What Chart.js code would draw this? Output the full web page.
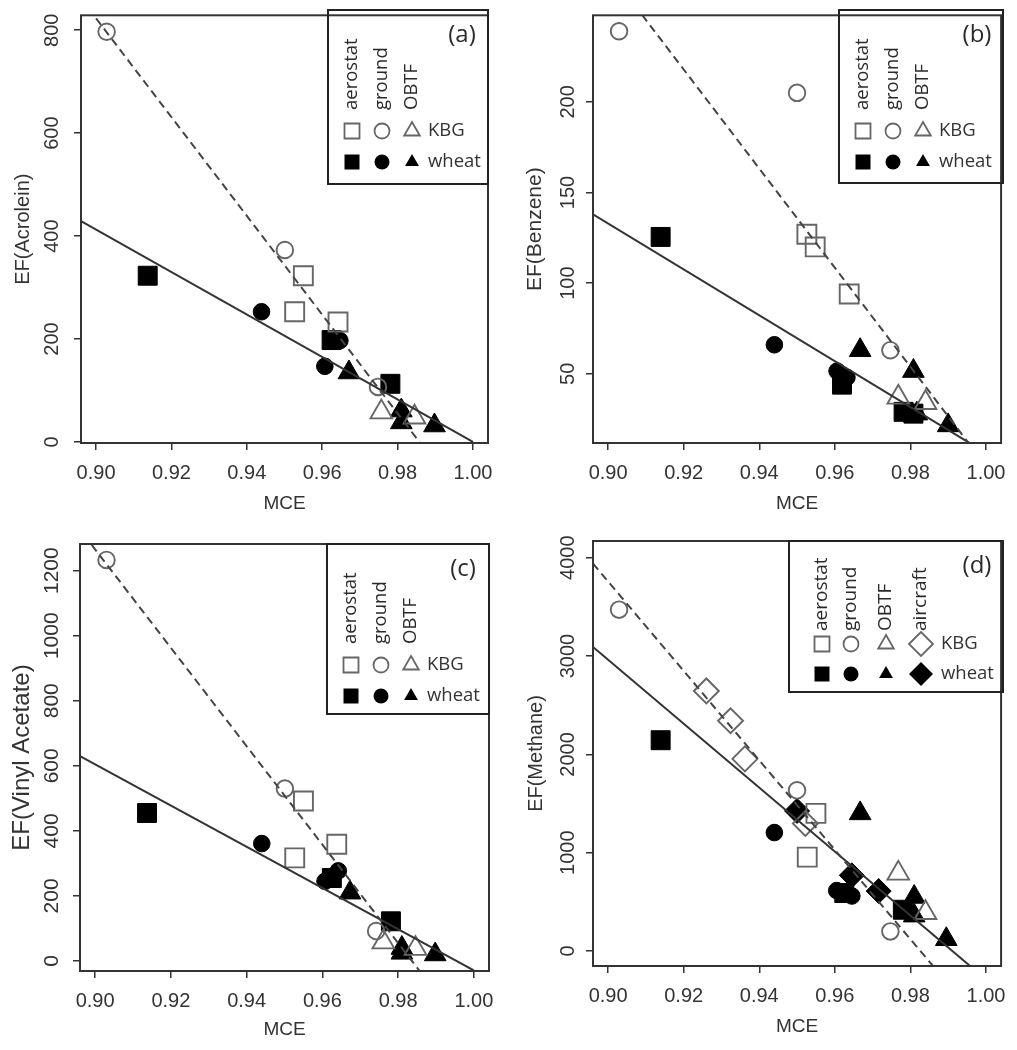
<!DOCTYPE html>
<html>
<head>
<meta charset="utf-8">
<script src="https://cdn.jsdelivr.net/npm/chart.js"></script>
<style>
html, body { margin: 0; padding: 0; background: #fff; }
#wrap { position: relative; width: 1017px; height: 1050px; }
canvas { position: absolute; }
</style>
</head>
<body>
<div id="wrap">
    <canvas id="pa" width="505" height="520" style="left:0px;top:0px"></canvas>
    <canvas id="pb" width="512" height="520" style="left:505px;top:0px"></canvas>
    <canvas id="pc" width="505" height="530" style="left:0px;top:520px"></canvas>
    <canvas id="pd" width="512" height="530" style="left:505px;top:520px"></canvas>
</div>
<script>
// x axis ticks (same for every panel)
const mceTicks = [0.90, 0.92, 0.94, 0.96, 0.98, 1.00];

// (a) Acrolein
const aTicks = [0, 200, 400, 600, 800];
const aAeroKBG = [[0.9550, 323], [0.9527, 253], [0.9642, 233]];
const aGroundKBG = [[0.9028, 797], [0.9501, 373], [0.9748, 107]];
const aObtfKBG = [[0.9757, 58], [0.9845, 48]];
const aAeroWheat = [[0.9137, 323], [0.9625, 198], [0.9781, 113]];
const aGroundWheat = [[0.9439, 253], [0.9647, 197], [0.9607, 147]];
const aObtfWheat = [[0.9671, 135], [0.9810, 61], [0.9810, 38], [0.9898, 32]];
const aFitDash = [[0.900, 823], [0.986, -2]];
const aFitSolid = [[0.896, 429], [1.000, 0]];

// (b) Benzene
const bTicks = [50, 100, 150, 200];
const bAeroKBG = [[0.9526, 127], [0.9548, 120], [0.9638, 94]];
const bGroundKBG = [[0.9029, 239], [0.9500, 205], [0.9747, 63]];
const bObtfKBG = [[0.9768, 37], [0.9840, 34]];
const bAeroWheat = [[0.9139, 125.5], [0.9619, 44], [0.9782, 29], [0.9808, 28]];
const bGroundWheat = [[0.9440, 66], [0.9606, 51.5], [0.9632, 48]];
const bObtfWheat = [[0.9667, 63], [0.9808, 51.5], [0.9817, 28], [0.9900, 21.5]];
const bFitDash = [[0.909, 248], [0.9953, 12]];
const bFitSolid = [[0.896, 138], [0.9955, 12]];

// (c) Vinyl Acetate
const cTicks = [0, 200, 400, 600, 800, 1000, 1200];
const cAeroKBG = [[0.9550, 492], [0.9527, 317], [0.9638, 359]];
const cGroundKBG = [[0.9030, 1233], [0.9501, 530], [0.9742, 92]];
const cObtfKBG = [[0.9761, 58], [0.9846, 38]];
const cAeroWheat = [[0.9137, 455], [0.9625, 255], [0.9781, 122]];
const cGroundWheat = [[0.9440, 361], [0.9642, 277], [0.9607, 245]];
const cObtfWheat = [[0.9673, 210], [0.9810, 40], [0.9810, 25], [0.9898, 20]];
const cFitDash = [[0.8991, 1279], [0.9857, -31]];
const cFitSolid = [[0.896, 630], [1.000, -29]];

// (d) Methane
const dTicks = [0, 1000, 2000, 3000, 4000];
const dAeroKBG = [[0.9550, 1400], [0.9527, 955]];
const dGroundKBG = [[0.9029, 3472], [0.9500, 1635], [0.9747, 200]];
const dObtfKBG = [[0.9768, 790], [0.9840, 390]];
const dAirKBG = [[0.9260, 2645], [0.9324, 2342], [0.9362, 1955], [0.9522, 1297]];
const dAeroWheat = [[0.9139, 2144], [0.9625, 590], [0.9780, 420]];
const dGroundWheat = [[0.9440, 1205], [0.9605, 615], [0.9645, 560]];
const dObtfWheat = [[0.9667, 1400], [0.9810, 550], [0.9810, 360], [0.9895, 120]];
const dAirWheat = [[0.9500, 1425], [0.9645, 770], [0.9716, 610]];
const dFitDash = [[0.896, 3940], [0.986, -152]];
const dFitSolid = [[0.896, 3092], [0.9958, -152]];

const openCol = '#666';
const axisCol = '#333';
const fontFam = '"Liberation Sans", Arial, sans-serif';
const sizes = { rect: 13.4, circle: 8.3, triangle: 12.5, rectRot: 12.5 };

function ser(pts, style, filled) {
    return { pts: pts, style: style, filled: filled };
}

const panels = [
    {
        id: 'pa', w: 505, h: 520, area: { l: 81, r: 488, t: 10, b: 443 },
        yMin: -2, yMax: 829, yTicks: aTicks, yTitle: 'EF(Acrolein)', yTitleSize: 20, tag: '(a)',
        yLabX: 52, yLabSize: 20, yTitlePad: 11, xTitlePad: 5.3,
        legend: { l: 328, t: 10, r: 488, b: 184 },
        cols: ['aerostat', 'ground', 'OBTF'],
        series: [ser(aAeroKBG, 'rect', false), ser(aGroundKBG, 'circle', false), ser(aObtfKBG, 'triangle', false),
                 ser(aAeroWheat, 'rect', true), ser(aGroundWheat, 'circle', true), ser(aObtfWheat, 'triangle', true)],
        dash: aFitDash, solid: aFitSolid
    },
    {
        id: 'pb', w: 512, h: 520, area: { l: 88, r: 498, t: 10, b: 443 },
        yMin: 11.8, yMax: 247.8, yTicks: bTicks, yTitle: 'EF(Benzene)', yTitleSize: 21, tag: '(b)',
        yLabX: 63, yLabSize: 20, yTitlePad: 17.4, xTitlePad: 5.3,
        legend: { l: 334, t: 10, r: 498, b: 183 },
        cols: ['aerostat', 'ground', 'OBTF'],
        series: [ser(bAeroKBG, 'rect', false), ser(bGroundKBG, 'circle', false), ser(bObtfKBG, 'triangle', false),
                 ser(bAeroWheat, 'rect', true), ser(bGroundWheat, 'circle', true), ser(bObtfWheat, 'triangle', true)],
        dash: bFitDash, solid: bFitSolid
    },
    {
        id: 'pc', w: 505, h: 530, area: { l: 80, r: 489, t: 24, b: 451 },
        yMin: -30.8, yMax: 1282, yTicks: cTicks, yTitle: 'EF(Vinyl Acetate)', yTitleSize: 24, tag: '(c)',
        yLabX: 52, yLabSize: 21, yTitlePad: 7.5, xTitlePad: 8.6,
        legend: { l: 327, t: 24, r: 489, b: 194 },
        cols: ['aerostat', 'ground', 'OBTF'],
        series: [ser(cAeroKBG, 'rect', false), ser(cGroundKBG, 'circle', false), ser(cObtfKBG, 'triangle', false),
                 ser(cAeroWheat, 'rect', true), ser(cGroundWheat, 'circle', true), ser(cObtfWheat, 'triangle', true)],
        dash: cFitDash, solid: cFitSolid
    },
    {
        id: 'pd', w: 512, h: 530, area: { l: 88, r: 498, t: 21, b: 446 },
        yMin: -152, yMax: 4170, yTicks: dTicks, yTitle: 'EF(Methane)', yTitleSize: 20, tag: '(d)',
        yLabX: 63, yLabSize: 20, yTitlePad: 19.7, xTitlePad: 11.9,
        legend: { l: 284, t: 21, r: 498, b: 172 },
        cols: ['aerostat', 'ground', 'OBTF', 'aircraft'],
        series: [ser(dAeroKBG, 'rect', false), ser(dGroundKBG, 'circle', false), ser(dObtfKBG, 'triangle', false), ser(dAirKBG, 'rectRot', false),
                 ser(dAeroWheat, 'rect', true), ser(dGroundWheat, 'circle', true), ser(dObtfWheat, 'triangle', true), ser(dAirWheat, 'rectRot', true)],
        dash: dFitDash, solid: dFitSolid
    }
];

// legend marker, same shapes as the chart.js point styles
function mark(ctx, style, x, y, r, filled) {
    ctx.beginPath();
    if (style === 'rect') {
        const s = r * Math.SQRT1_2;
        ctx.rect(x - s, y - s, 2 * s, 2 * s);
    } else if (style === 'circle') {
        ctx.arc(x, y, r, 0, Math.PI * 2);
    } else if (style === 'triangle') {
        ctx.moveTo(x, y - r);
        ctx.lineTo(x + r * 0.866, y + r / 2);
        ctx.lineTo(x - r * 0.866, y + r / 2);
        ctx.closePath();
    } else {
        ctx.moveTo(x - r, y);
        ctx.lineTo(x, y - r);
        ctx.lineTo(x + r, y);
        ctx.lineTo(x, y + r);
        ctx.closePath();
    }
    if (filled) {
        ctx.fillStyle = '#000';
        ctx.fill();
    } else {
        ctx.strokeStyle = openCol;
        ctx.lineWidth = 1.8;
        ctx.stroke();
    }
}

function decorate(chart, p) {
    const ctx = chart.ctx;
    const ca = chart.chartArea;
    const ys = chart.scales.y;
    ctx.save();
    // plot box
    ctx.strokeStyle = axisCol;
    ctx.lineWidth = 2;
    ctx.strokeRect(ca.left, ca.top, ca.right - ca.left, ca.bottom - ca.top);

    // y tick labels, vertical like R
    ctx.fillStyle = axisCol;
    ctx.font = p.yLabSize + 'px ' + fontFam;
    ctx.textAlign = 'center';
    ctx.textBaseline = 'middle';
    p.yTicks.forEach(v => {
        ctx.save();
        ctx.translate(p.yLabX, ys.getPixelForValue(v));
        ctx.rotate(-Math.PI / 2);
        ctx.fillText(String(v), 0, 0);
        ctx.restore();
    });

    // legend
    const L = p.legend;
    ctx.strokeStyle = '#222';
    ctx.lineWidth = 2;
    ctx.strokeRect(L.l, L.t, L.r - L.l, L.b - L.t);
    ctx.fillStyle = '#2a2a2a';
    ctx.font = '24px "Open Sans", sans-serif';
    ctx.textAlign = 'center';
    ctx.fillText(p.tag, L.r - 26, L.t + 25);

    const four = p.cols.length === 4;
    const colX = four ? [33, 62, 97, 132] : [24, 54, 84];
    const txtX = four ? 152 : 100;
    const labBottom = four ? 90 : 100;
    const rows = four ? [103, 133] : [121, 152];
    ctx.font = (four ? '19px' : '18.5px') + ' "Open Sans", sans-serif';
    ctx.textAlign = 'left';
    p.cols.forEach((name, i) => {
        ctx.save();
        ctx.translate(L.l + colX[i], L.t + labBottom);
        ctx.rotate(-Math.PI / 2);
        ctx.fillText(name, 0, 0);
        ctx.restore();
    });
    const n = p.cols.length;
    const styles = p.series.slice(0, n).map(s => s.style);
    const lr = { rect: 10.6, circle: 7.5, triangle: 9, rectRot: 12 };
    styles.forEach((st, i) => {
        mark(ctx, st, L.l + colX[i], L.t + rows[0], lr[st], false);
        mark(ctx, st, L.l + colX[i], L.t + rows[1], st === 'triangle' ? 8 : lr[st], true);
    });
    ctx.fillStyle = '#333';
    ctx.font = '18.5px "Open Sans", sans-serif';
    ctx.fillText('KBG', L.l + txtX, L.t + rows[0]);
    ctx.fillText('wheat', L.l + txtX, L.t + rows[1]);
    ctx.restore();
}

panels.forEach(p => {
    const datasets = [
        {
            type: 'line', data: p.dash.map(d => ({ x: d[0], y: d[1] })),
            borderColor: '#444', borderWidth: 2, borderDash: [8, 5],
            pointRadius: 0, fill: false, order: 0, clip: 0
        },
        {
            type: 'line', data: p.solid.map(d => ({ x: d[0], y: d[1] })),
            borderColor: '#333', borderWidth: 2,
            pointRadius: 0, fill: false, order: 0, clip: 0
        }
    ];
    p.series.forEach(s => {
        datasets.push({
            data: s.pts.map(d => ({ x: d[0], y: d[1] })),
            pointStyle: s.style,
            pointRadius: sizes[s.style],
            pointHoverRadius: sizes[s.style],
            pointBackgroundColor: s.filled ? '#000' : 'rgba(0,0,0,0)',
            pointBorderColor: s.filled ? '#000' : openCol,
            pointBorderWidth: s.filled ? 1 : 1.9,
            showLine: false,
            order: 1,
            clip: false
        });
    });

    new Chart(document.getElementById(p.id), {
        type: 'scatter',
        data: { datasets: datasets },
        options: {
            responsive: false,
            animation: false,
            events: [],
            layout: { padding: { left: 0, top: p.area.t, right: p.w - p.area.r, bottom: 0 } },
            plugins: { legend: { display: false }, tooltip: { enabled: false } },
            scales: {
                x: {
                    type: 'linear', min: 0.896, max: 1.004,
                    afterBuildTicks: s => { s.ticks = mceTicks.map(v => ({ value: v })); },
                    afterFit: s => { s.height = p.h - p.area.b; },
                    border: { display: false },
                    grid: { display: true, drawOnChartArea: false, drawTicks: true, tickLength: 7, color: axisCol, lineWidth: 1.5 },
                    ticks: {
                        autoSkip: false, maxRotation: 0, padding: 11, color: axisCol,
                        font: { family: fontFam, size: 20 },
                        callback: v => Number(v).toFixed(2)
                    },
                    title: {
                        display: true, text: 'MCE', color: axisCol,
                        font: { family: fontFam, size: 19 },
                        padding: { top: 0, bottom: p.xTitlePad }
                    }
                },
                y: {
                    type: 'linear', min: p.yMin, max: p.yMax,
                    afterBuildTicks: s => { s.ticks = p.yTicks.map(v => ({ value: v })); },
                    afterFit: s => { s.width = p.area.l; },
                    border: { display: false },
                    grid: { display: true, drawOnChartArea: false, drawTicks: true, tickLength: 7, color: axisCol, lineWidth: 1.5 },
                    ticks: { display: false },
                    title: {
                        display: true, text: p.yTitle, color: axisCol,
                        font: { family: fontFam, size: p.yTitleSize },
                        padding: { top: p.yTitlePad, bottom: 0 }
                    }
                }
            }
        },
        plugins: [{ id: 'decor', afterDraw: c => decorate(c, p) }]
    });
});
</script>
</body>
</html>
